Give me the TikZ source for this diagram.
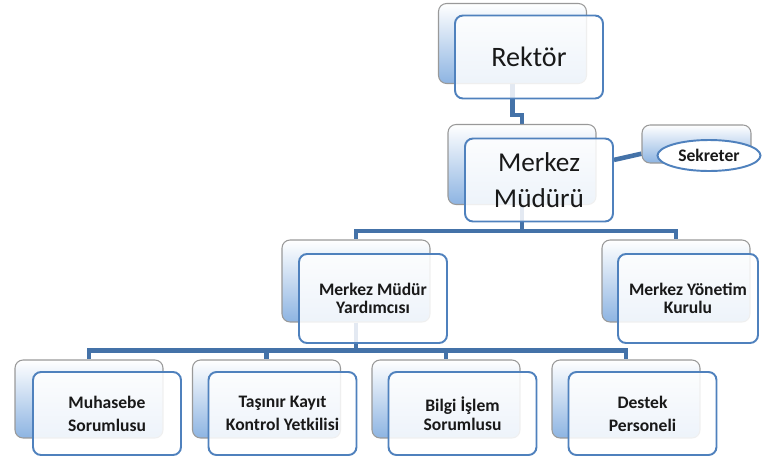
\documentclass[tikz,border=0pt]{standalone}
\usepackage{fontspec}
\setmainfont{Carlito}
\usetikzlibrary{shapes.geometric,backgrounds}
\definecolor{linkblue}{RGB}{68,114,168}
\definecolor{edgeblue}{RGB}{79,129,189}
\definecolor{shadeblue}{RGB}{141,180,226}

\begin{document}
\begin{tikzpicture}[x=0.02cm, y=-0.02cm,
        backbox/.style={draw=gray!80, line width=0.6pt, rounded corners=0.16cm,
                top color=white, bottom color=shadeblue,
                minimum width=2.96cm, minimum height=1.6cm, inner sep=0pt},
        frontbox/.style={draw=edgeblue, line width=1.1pt, rounded corners=0.16cm,
                fill=white, fill opacity=0.85, text opacity=1, text=black!90,
                minimum width=2.96cm, minimum height=1.66cm, inner sep=0pt, align=center},
        bigtext/.style={font=\fontsize{15.5}{20.5}\selectfont},
        smalltext/.style={font=\bfseries\fontsize{10}{13}\selectfont},
        link/.style={draw=linkblue, line width=2.6pt}]
        \useasboundingbox (0,0) rectangle (762,457);

        % Top boxes
        \node [backbox] (rektorB) at (512.5,43.5) {};
        \node [frontbox, font=\fontsize{16}{20.5}\selectfont] (rektor) at (529,57) {Rektör};
        \node [backbox] (merkezB) at (522,164.5) {};
        \node [frontbox, bigtext] (merkez) at (539,180) {Merkez\\Müdürü};
        \node [backbox, minimum width=2.18cm, minimum height=0.76cm] (sekreterB) at (696.5,144) {};
        \node [ellipse, draw=edgeblue, line width=1.1pt, fill=white, inner sep=0pt,
                minimum width=2.06cm, minimum height=0.62cm, text=black!90,
                font=\bfseries\fontsize{10}{12}\selectfont] (sekreter) at (709,155.5) {Sekreter};

        % Middle row
        \node [backbox, minimum height=1.64cm] (yardB) at (356,281) {};
        \node [frontbox, minimum height=1.78cm, font=\bfseries\fontsize{10}{10.5}\selectfont] (yard) at (373,298.5) {Merkez Müdür\\Yardımcısı};
        \node [backbox, minimum height=1.64cm] (kurulB) at (676,281) {};
        \node [frontbox, minimum height=1.78cm, minimum width=2.8cm, font=\bfseries\fontsize{10}{10.5}\selectfont] (kurul) at (688,298.5) {Merkez Yönetim\\Kurulu};

        % Bottom row
        \node [backbox, minimum height=1.56cm] (muhasebeB) at (89,399) {};
        \node [frontbox, smalltext] (muhasebe) at (107,413.5) {Muhasebe\\Sorumlusu};
        \node [backbox, minimum height=1.56cm] (tasinirB) at (266.5,399) {};
        \node [frontbox, smalltext] (tasinir) at (282.5,413.5) {Taşınır Kayıt\\Kontrol Yetkilisi};
        \node [backbox, minimum height=1.56cm] (bilgiB) at (446,399) {};
        \node [frontbox, font=\bfseries\fontsize{10}{10.5}\selectfont] (bilgi) at (462.5,413.5) {Bilgi İşlem\\Sorumlusu};
        \node [backbox, minimum height=1.56cm] (destekB) at (626,399) {};
        \node [frontbox, smalltext] (destek) at (642.5,413.5) {Destek\\Personeli};

        % Connectors
        \coordinate (jog) at (513,115);
        \begin{scope}[on background layer]
                \draw [link] (rektorB.south) |- (jog) -| (merkezB.north);
                \draw [link] (merkez.15) -- (sekreterB.190);
                \draw [link] (merkezB.south) -- ++(0,26) -| (yardB.north);
                \draw [link] (merkezB.south) -- ++(0,26) -| (kurulB.north);
                \foreach \n in {muhasebeB,tasinirB,bilgiB,destekB}
                        \draw [link] (yardB.south) -- ++(0,28) -| (\n.north);
        \end{scope}
\end{tikzpicture}
\end{document}
